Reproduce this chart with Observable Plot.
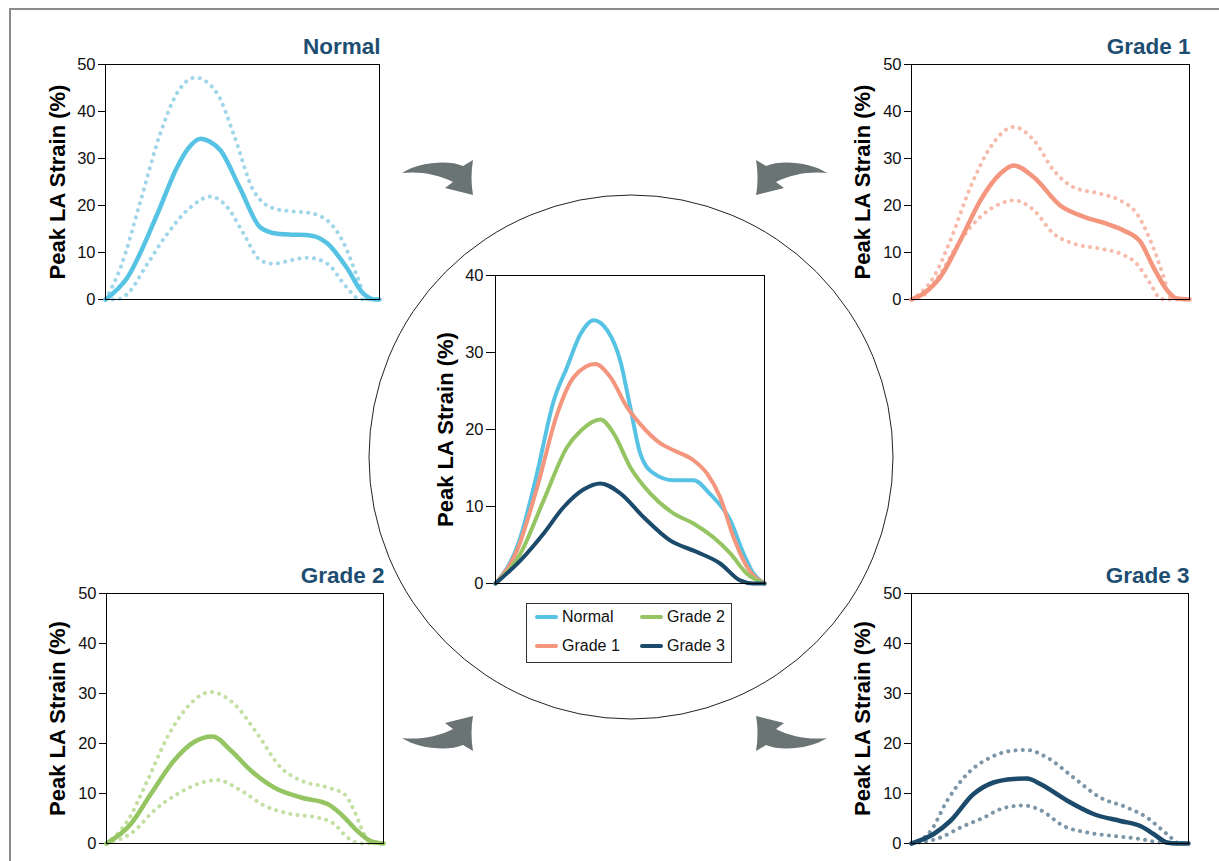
<!DOCTYPE html>
<html>
<head>
<meta charset="utf-8">
<script src="https://cdn.jsdelivr.net/npm/d3@7"></script>
<script src="https://cdn.jsdelivr.net/npm/@observablehq/plot@0.6"></script>
<style>
  html, body { margin: 0; padding: 0; background: #fff; }
  #stage { position: relative; width: 1219px; height: 861px; overflow: hidden; font-family: "Liberation Sans", Arial, sans-serif; }
  #deco { position: absolute; left: 0; top: 0; }
  .panel { position: absolute; }
  .panel svg { overflow: visible; }
  #legend { position: absolute; left: 526px; top: 603px; width: 204px; height: 58px; border: 1px solid #333; background: #fff; font-size: 16px; color: #111; }
  .lg { position: absolute; display: flex; align-items: center; }
  .lg span.sw { display: inline-block; width: 23px; height: 4px; border-radius: 2px; margin-right: 4px; }
</style>
</head>
<body>
<div id="stage">
  <svg id="deco" width="1219" height="861"></svg>
  <div id="legend"></div>
</div>
<script>
// ---- data (x = % of cycle, y = peak LA strain %) ----
const seriesNames = ["Normal", "Grade 1", "Grade 2", "Grade 3"];
const yTicksCorner = [0, 10, 20, 30, 40, 50];
const yTicksCenter = [0, 10, 20, 30, 40];
const yLabel = "Peak LA Strain (%)";

const normalMean  = [[0,0],[8,4.7],[19,18.3],[26,28],[30,32],[34.7,34.2],[38,33.6],[42,31.7],[49,23.8],[56.6,15.3],[62.8,14],[69,13.8],[74.8,13.6],[81,11.9],[88,6.8],[94,1.3],[98.5,0],[100,0]];
const normalUpper = [[0,0],[5.5,6.8],[12.8,21],[20,35.3],[26,43.8],[32.8,47.2],[40.8,43.8],[46.7,35.3],[54,23.2],[61.3,19.4],[67,18.8],[73.7,18.5],[81,16.8],[87,11.9],[92,4.7],[95.6,0],[100,0]];
const normalLower = [[0,0],[4,0],[8,1.2],[15.3,7.6],[22.6,14],[31,19.6],[38.3,21.9],[44.5,19.6],[50.4,14],[56.6,8.3],[61.3,7.6],[68,8.4],[73.7,8.9],[81,7.6],[88,2.6],[93,0],[100,0]];

const g1Mean  = [[0,0],[4.4,1.3],[10.4,4.8],[17.6,12.6],[24.8,21.1],[32,26.8],[36.8,28.5],[44,26],[53.5,20],[62,17.6],[70.3,16.1],[76.3,14.7],[82.3,12.3],[87,6.9],[91.9,2],[95.4,0.2],[100,0]];
const g1Upper = [[0,0],[8,4.8],[14,12.6],[21.2,23.9],[28.4,32.4],[36.8,36.7],[44,33.9],[51.1,27.5],[58.3,23.9],[67.9,22.5],[75,21.1],[81,18.3],[85.9,12.6],[90.7,4.8],[93,0.6],[96.6,0.2],[100,0]];
const g1Lower = [[0,0],[4.4,0.9],[10.4,5.5],[17.6,12.6],[24.8,17.6],[32,20.4],[36.8,21.1],[44,19],[51.1,14],[58.3,11.9],[67.9,10.8],[75,9.8],[81,7.6],[85.9,3.4],[89.5,0.2],[92,0],[100,0]];

const g2Mean  = [[0,0],[8.8,3.9],[16,9.9],[24.4,16.6],[31.6,20.3],[38.3,21.4],[44.9,18.6],[52.1,14.6],[60.5,11.2],[70.2,9.2],[79.8,7.9],[84.6,5.9],[90.6,2.5],[95.4,0.5],[100,0]];
const g2Upper = [[0,0],[7.6,4.5],[14.8,12.6],[22,21.3],[29.2,27.3],[37.7,30.3],[46.1,27.9],[54.5,21.9],[62.9,15.2],[70.2,12.6],[79.8,11.2],[85.8,9.9],[89.4,6.6],[93,1.9],[95.4,0],[100,0]];
const g2Lower = [[0,0],[10,2.5],[17.2,6.6],[25.6,9.9],[32.9,11.9],[40,12.7],[48.5,10.6],[56.9,7.6],[66.5,5.9],[76.1,5.2],[82.2,3.9],[87,1.2],[91.8,0],[100,0]];

const g3Mean  = [[0,0],[8,1.9],[14,4.5],[22.4,9.9],[29.6,12.2],[36.9,12.9],[41.7,13],[46.5,11.9],[56.1,8.6],[65.7,5.9],[75.4,4.5],[82.6,3.5],[87.4,1.9],[92.2,0.2],[95.8,0],[100,0]];
const g3Upper = [[0,0],[6.9,2.5],[12.9,8.6],[20.1,13.9],[28.5,17.2],[36.9,18.6],[41.7,18.7],[48.9,17.2],[58.5,13.2],[68.1,9.2],[77.8,7.2],[85,5.2],[92.2,1.9],[97,0],[100,0]];
const g3Lower = [[0,0],[10.5,1.2],[17.7,3.2],[26.1,5.2],[33.3,7.1],[40.5,7.6],[46.5,6.7],[54.9,3.5],[63.3,2.2],[73,1.5],[82.6,0.9],[89.8,0.2],[100,0]];

const centerNormal = [[0,0],[8.9,5.6],[15.1,13.8],[21.7,23.8],[26.6,28.1],[31.6,32.4],[36.5,34.2],[41.5,32.9],[46.4,28.9],[50.1,22.9],[53.8,16.9],[58.8,14.3],[66.2,13.4],[73.6,13.4],[79.8,11.6],[87.3,8.2],[92.2,3.9],[95.9,1.3],[100,0]];
const centerG1 = [[0,0],[8,4.3],[15.5,12.5],[22.9,22],[29.1,26.8],[37.1,28.5],[42.7,26.8],[48.9,22.9],[53.8,20.7],[61.3,18.2],[66.2,17.3],[73.6,16],[78.6,14.3],[83.5,11.2],[88.5,6],[93.4,2.2],[100,0]];
const centerG2 = [[0,0],[9.3,3.9],[17.9,10.8],[26.6,17.7],[31.6,19.8],[39,21.3],[43.9,19.5],[50.1,15.1],[57.5,11.7],[66.2,9.1],[73.6,7.8],[81,6],[87.3,3.9],[93.4,1.3],[100,0]];
const centerG3 = [[0,0],[9.3,3],[17.9,6.5],[25.3,9.9],[32.7,12.2],[39,13],[46.4,11.7],[55.1,8.6],[64.9,5.6],[74.8,4.1],[83.5,2.6],[90.9,0.4],[95.9,0],[100,0]];

// ---- styling ----
const meanColors = ["#57c3e4", "#f4957e", "#95c562", "#1b4a6b"];
const bandColors = ["#9fd6ea", "#f7bbab", "#c3dfa2", "#7d96a7"];
const titleColor = "#1d4e71";
const FONT = '"Liberation Sans", Arial, sans-serif';

const stage = document.getElementById("stage");

function toRows(pairs, kind) { return pairs.map(([t, v]) => ({t, v, kind})); }

function panel({left, top, frameW, frameH, mL, mR, mT, mB, yDomain, yTicks, lines, title, tickSize, labelDx}) {
  const marks = [
    Plot.axisY({ticks: yTicks, tickSize, tickPadding: 3, fontSize: 16.5, label: null, stroke: "#000", color: "#111"}),
    Plot.text([yLabel], {text: d => d, frameAnchor: "left", rotate: -90, dx: labelDx, textAnchor: "middle", lineAnchor: "middle", fontSize: 22, fontWeight: "bold", fill: "#000"}),
    ...lines,
    Plot.frame({stroke: "#000", strokeWidth: 1})
  ];
  if (title) marks.push(Plot.text([title], {text: d => d, frameAnchor: "top-right", dy: -11, dx: 1, textAnchor: "end", lineAnchor: "bottom", fontSize: 22.5, fontWeight: "bold", fill: titleColor}));
  const p = Plot.plot({
    width: frameW + mL + mR, height: frameH + mT + mB,
    marginLeft: mL, marginRight: mR, marginTop: mT, marginBottom: mB,
    style: {background: "transparent", fontFamily: FONT, overflow: "visible"},
    x: {domain: [0, 100], axis: null},
    y: {domain: yDomain, axis: null},
    marks
  });
  const d = document.createElement("div");
  d.className = "panel";
  d.style.left = (left - mL) + "px";
  d.style.top = (top - mT) + "px";
  d.appendChild(p);
  stage.appendChild(d);
}

function cornerLines(mean, upper, lower, i) {
  return [
    Plot.line(toRows(upper, "u"), {x: "t", y: "v", stroke: bandColors[i], strokeWidth: 4, strokeDasharray: "0.1 7.2", strokeLinecap: "round", curve: "monotone-x"}),
    Plot.line(toRows(lower, "l"), {x: "t", y: "v", stroke: bandColors[i], strokeWidth: 4, strokeDasharray: "0.1 7.2", strokeLinecap: "round", curve: "monotone-x"}),
    Plot.line(toRows(mean, "m"), {x: "t", y: "v", stroke: meanColors[i], strokeWidth: 4.5, strokeLinecap: "round", curve: "monotone-x"})
  ];
}

// ---- decoration: frame border, circle, arrows ----
const deco = d3.select("#deco");
deco.append("path").attr("d", "M10,861 L10,9 L1219,9").attr("fill", "none").attr("stroke", "#8c8c8c").attr("stroke-width", 2);
deco.append("circle").attr("cx", 631).attr("cy", 457).attr("r", 262).attr("fill", "none").attr("stroke", "#222").attr("stroke-width", 1);
const arrowPath = "M0,13 C15,3 45,-1 61,6 L71,0 C69,12 69,24 71,35 L43,28 L51,22 C36,14 16,11 0,13 Z";
[[402, 160, 1, 1], [827, 160, -1, 1], [402, 751, 1, -1], [827, 751, -1, -1]].forEach(([x, y, sx, sy]) => {
  deco.append("path").attr("d", arrowPath).attr("fill", "#6b7474")
    .attr("transform", `translate(${x},${y}) scale(${sx},${sy})`);
});

// ---- panels ----
panel({left: 105, top: 64, frameW: 274, frameH: 235, mL: 75, mR: 12, mT: 40, mB: 10, yDomain: [0, 50], yTicks: yTicksCorner, tickSize: 7, labelDx: -48, title: seriesNames[0], lines: cornerLines(normalMean, normalUpper, normalLower, 0)});
panel({left: 911, top: 64, frameW: 278, frameH: 235, mL: 75, mR: 12, mT: 40, mB: 10, yDomain: [0, 50], yTicks: yTicksCorner, tickSize: 7, labelDx: -49, title: seriesNames[1], lines: cornerLines(g1Mean, g1Upper, g1Lower, 1)});
panel({left: 106, top: 593, frameW: 277, frameH: 250, mL: 75, mR: 12, mT: 40, mB: 10, yDomain: [0, 50], yTicks: yTicksCorner, tickSize: 7, labelDx: -49, title: seriesNames[2], lines: cornerLines(g2Mean, g2Upper, g2Lower, 2)});
panel({left: 911, top: 593, frameW: 277, frameH: 250, mL: 75, mR: 12, mT: 40, mB: 10, yDomain: [0, 50], yTicks: yTicksCorner, tickSize: 7, labelDx: -49, title: seriesNames[3], lines: cornerLines(g3Mean, g3Upper, g3Lower, 3)});

const centerSets = [centerNormal, centerG1, centerG2, centerG3];
const centerRows = centerSets.flatMap((s, i) => toRows(s, seriesNames[i]));
panel({left: 495, top: 275, frameW: 269, frameH: 308, mL: 75, mR: 10, mT: 10, mB: 10, yDomain: [0, 40], yTicks: yTicksCenter, tickSize: 9, labelDx: -50, title: null,
  lines: [Plot.line(centerRows, {x: "t", y: "v", z: "kind", stroke: d => meanColors[seriesNames.indexOf(d.kind)], strokeWidth: 4, strokeLinecap: "round", curve: "monotone-x"})]});

// ---- legend ----
const legend = document.getElementById("legend");
const pos = [[8, 14], [8, 43], [113, 14], [113, 43]];
[0, 1, 2, 3].forEach((i) => {
  const el = document.createElement("div");
  el.className = "lg";
  el.style.left = pos[i][0] + "px";
  el.style.top = (pos[i][1] - 10) + "px";
  el.innerHTML = `<span class="sw" style="background:${meanColors[i]}"></span><span>${seriesNames[i]}</span>`;
  legend.appendChild(el);
});
legend.style.zIndex = 5;
</script>
</body>
</html>
